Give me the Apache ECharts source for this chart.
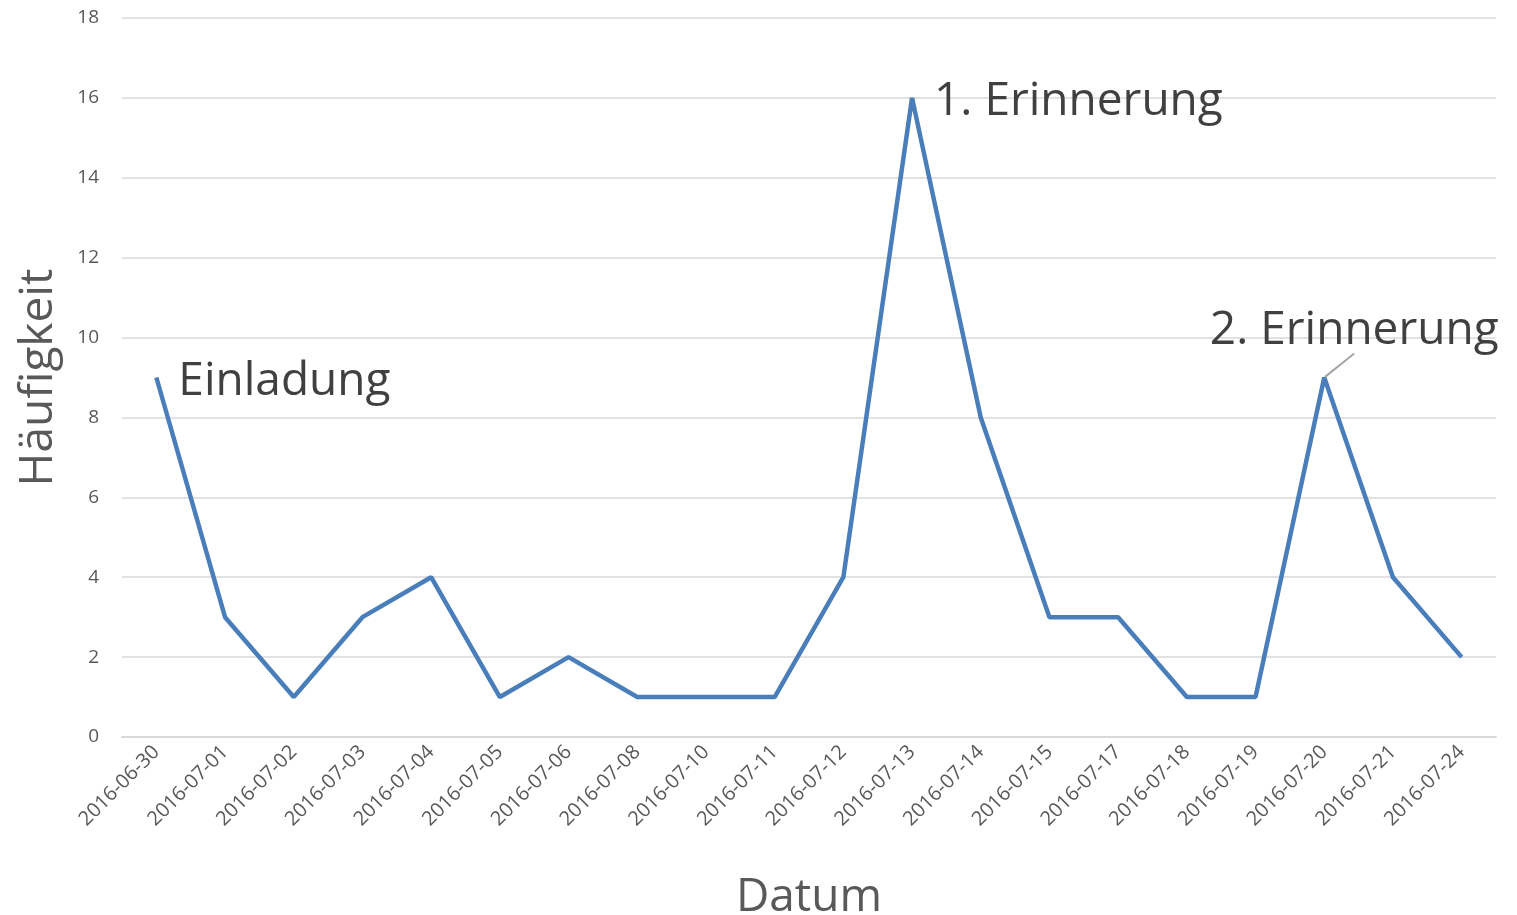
<!DOCTYPE html>
<html>
<head>
<meta charset="utf-8">
<script src="https://cdn.jsdelivr.net/npm/echarts@6/dist/echarts.min.js"></script>
<style>
  html, body { margin: 0; padding: 0; background: #fff; }
  #chart { width: 1517px; height: 915px; }
</style>
</head>
<body>
<div id="chart"></div>
<script>
const dates = ['2016-06-30', '2016-07-01', '2016-07-02', '2016-07-03', '2016-07-04', '2016-07-05',
  '2016-07-06', '2016-07-08', '2016-07-10', '2016-07-11', '2016-07-12', '2016-07-13', '2016-07-14',
  '2016-07-15', '2016-07-17', '2016-07-18', '2016-07-19', '2016-07-20', '2016-07-21', '2016-07-24'];
const counts = [9, 3, 1, 3, 4, 1, 2, 1, 1, 1, 4, 16, 8, 3, 3, 1, 1, 9, 4, 2];
const notes = { 0: 'Einladung', 11: '1. Erinnerung', 17: '2. Erinnerung' };

const font = '"Open Sans", "Noto Sans", sans-serif';

const seriesData = counts.map((v, i) => {
  if (!notes[i]) return v;
  return {
    value: v,
    label: {
      show: true,
      formatter: notes[i],
      position: i === 17 ? 'top' : 'right',
      fontSize: 46,
      fontFamily: font,
      color: '#404040'
    },
    labelLine: { show: i === 17, lineStyle: { color: '#a6a6a6', width: 2 } }
  };
});

const chart = echarts.init(document.getElementById('chart'));
chart.setOption({
  animation: false,
  grid: { left: 122, right: 21, top: 18, bottom: 178, outerBoundsMode: 'none', containLabel: false },
  xAxis: {
    type: 'category',
    data: dates,
    name: 'Datum',
    nameLocation: 'middle',
    nameGap: 138,
    nameTextStyle: { fontSize: 46, fontFamily: font, color: '#595959' },
    axisLine: { lineStyle: { color: '#d9d9d9', width: 2 } },
    axisTick: { show: false },
    axisLabel: { rotate: 45, fontSize: 20, fontFamily: font, color: '#595959', margin: 12, interval: 0 }
  },
  yAxis: {
    type: 'value',
    min: 0,
    max: 18,
    interval: 2,
    name: 'Häufigkeit',
    nameLocation: 'middle',
    nameGap: 60,
    nameTextStyle: { fontSize: 46, fontFamily: font, color: '#595959' },
    axisLine: { show: false },
    axisTick: { show: false },
    axisLabel: { fontSize: 19, fontFamily: font, color: '#595959', margin: 23 },
    splitLine: { lineStyle: { color: '#d9d9d9', width: 1.5 } }
  },
  series: [{
    type: 'line',
    data: seriesData,
    showSymbol: true,
    symbol: 'circle',
    symbolSize: 2,
    itemStyle: { color: 'rgba(0,0,0,0)' },
    lineStyle: { color: '#4a7ebb', width: 4.5 },
    labelLayout: function (p) {
      if (p.dataIndex === 17) return { dx: 30, dy: -18 };
      if (p.dataIndex === 0) return { dx: 16, dy: 4 };
      if (p.dataIndex === 11) return { dx: 16, dy: 4 };
      return {};
    }
  }]
});
</script>
</body>
</html>
